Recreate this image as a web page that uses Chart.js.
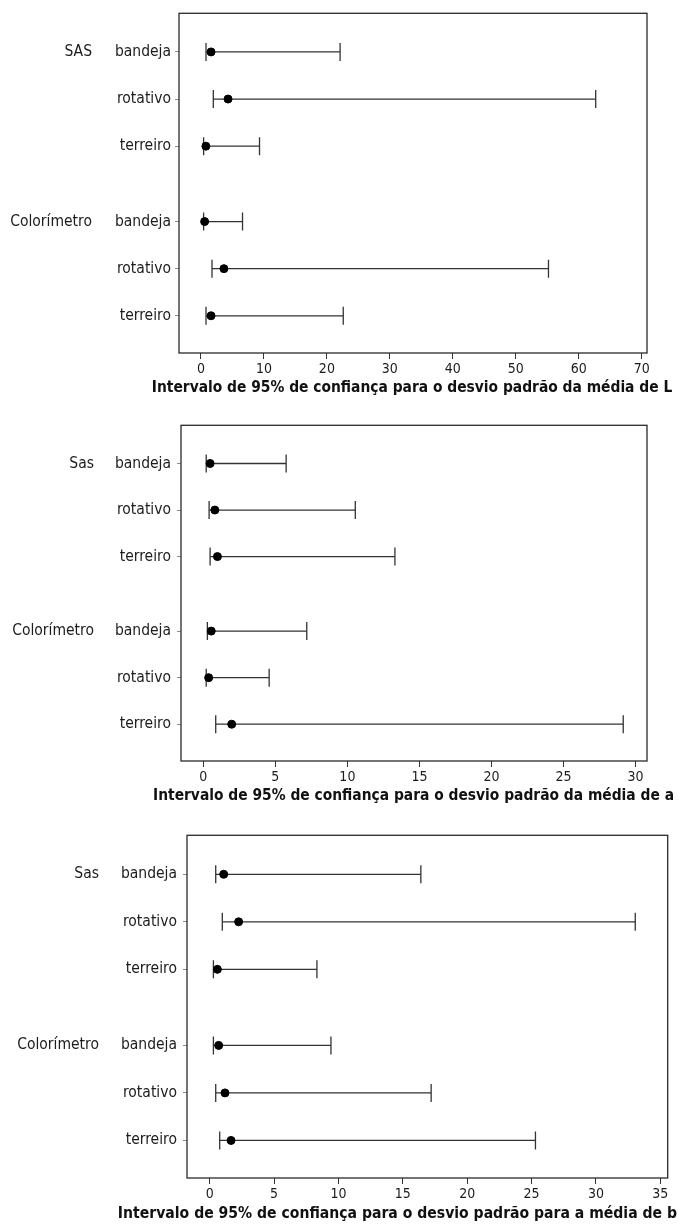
<!DOCTYPE html>
<html>
<head>
<meta charset="utf-8">
<script src="https://cdn.jsdelivr.net/npm/chart.js@4.4.1/dist/chart.umd.min.js"></script>
<style>
    body { margin: 0; background: #fff; width: 678px; height: 1226px; position: relative; overflow: hidden; }
    .panel { position: absolute; left: 0; }
</style>
</head>
<body>
<div class="panel" style="top:0px"><canvas id="chart-l" width="678" height="400"></canvas></div>
<div class="panel" style="top:410px"><canvas id="chart-a" width="678" height="398"></canvas></div>
<div class="panel" style="top:820px"><canvas id="chart-b" width="678" height="406"></canvas></div>
<script>
const rowNames = ['bandeja', 'rotativo', 'terreiro'];
const groupsL = ['SAS', 'Colorímetro'];
const groupsAB = ['Sas', 'Colorímetro'];

// intervalos: limite inferior, desvio padrão estimado, limite superior
const lowL  = [0.8, 1.96, 0.42, 0.42, 1.75, 0.8];
const midL  = [1.6, 4.3, 0.78, 0.58, 3.65, 1.6];
const highL = [22.1, 62.7, 9.3, 6.6, 55.2, 22.6];

const lowA  = [0.2, 0.4, 0.47, 0.28, 0.2, 0.86];
const midA  = [0.47, 0.8, 0.98, 0.55, 0.37, 1.97];
const highA = [5.75, 10.55, 13.3, 7.18, 4.57, 29.15];

const lowB  = [0.47, 0.98, 0.29, 0.29, 0.47, 0.78];
const midB  = [1.09, 2.25, 0.6, 0.7, 1.19, 1.66];
const highB = [16.4, 33.05, 8.33, 9.42, 17.2, 25.3];

const ticksL = [0, 10, 20, 30, 40, 50, 60, 70];
const ticksA = [0, 5, 10, 15, 20, 25, 30];
const ticksB = [0, 5, 10, 15, 20, 25, 30, 35];

const titleL = 'Intervalo de 95% de confiança para o desvio padrão da média de L';
const titleA = 'Intervalo de 95% de confiança para o desvio padrão da média de a';
const titleB = 'Intervalo de 95% de confiança para o desvio padrão para a média de b';

const FONT = "'DejaVu Sans Condensed', 'DejaVu Sans', sans-serif";
const INK = '#1c1c1c';

// linhas dentro de um grupo ficam a 1 unidade; entre grupos o salto é maior
const rowPos = [];
for (let g = 0; g < 2; g++) {
    for (let i = 0; i < 3; i++) rowPos.push(g * 3.6 + i);
}

const framePlugin = {
    id: 'frame',
    afterDraw(chart) {
        const a = chart.chartArea, ctx = chart.ctx;
        ctx.save();
        ctx.strokeStyle = '#2a2a2a';
        ctx.lineWidth = 1.3;
        ctx.strokeRect(a.left, a.top, a.right - a.left, a.bottom - a.top);
        ctx.restore();
    }
};

const groupPlugin = {
    id: 'groupNames',
    afterDraw(chart, args, opts) {
        const ctx = chart.ctx, y = chart.scales.y;
        ctx.save();
        ctx.font = '15.5px ' + FONT;
        ctx.fillStyle = INK;
        ctx.textAlign = 'right';
        ctx.textBaseline = 'middle';
        opts.names.forEach((name, g) => {
            ctx.fillText(name, chart.chartArea.left - opts.offset, y.getPixelForValue(rowPos[g * 3]));
        });
        ctx.restore();
    }
};

// o título do eixo x é mais largo que a área do gráfico, então vai desenhado à parte
const captionPlugin = {
    id: 'caption',
    afterDraw(chart, args, opts) {
        const ctx = chart.ctx;
        ctx.save();
        ctx.font = 'bold ' + opts.size + 'px ' + FONT;
        ctx.fillStyle = '#111';
        ctx.textAlign = opts.align;
        ctx.textBaseline = 'middle';
        ctx.fillText(opts.text, opts.x, opts.y);
        ctx.restore();
    }
};

function makeChart(id, p) {
    const dots = {
        data: p.mid.map((v, i) => ({ x: v, y: rowPos[i] })),
        pointRadius: 4,
        pointBackgroundColor: '#000',
        pointBorderColor: '#000',
        pointBorderWidth: 1,
        showLine: false,
        order: 0
    };
    const bars = p.low.map((lo, i) => ({
        data: [{ x: lo, y: rowPos[i] }, { x: p.high[i], y: rowPos[i] }],
        showLine: true,
        borderColor: '#333',
        borderWidth: 1.3,
        pointStyle: 'line',
        rotation: 90,
        pointRadius: 9,
        pointBorderColor: '#333',
        pointBorderWidth: 1.3,
        order: 1
    }));

    return new Chart(document.getElementById(id), {
        type: 'scatter',
        data: { datasets: [dots, ...bars] },
        plugins: [framePlugin, groupPlugin, captionPlugin],
        options: {
            responsive: false,
            animation: false,
            events: [],
            layout: { padding: { top: p.top, right: p.right, left: 0, bottom: 0 } },
            plugins: {
                legend: { display: false },
                tooltip: { enabled: false },
                groupNames: { names: p.groups, offset: p.groupOffset },
                caption: p.caption
            },
            scales: {
                x: {
                    type: 'linear',
                    min: p.xMin,
                    max: p.xMax,
                    afterBuildTicks: s => { s.ticks = p.ticks.map(v => ({ value: v })); },
                    afterFit: s => { s.height = p.axisH; },
                    border: { display: false },
                    grid: { drawOnChartArea: false, tickLength: 6, color: '#333' },
                    ticks: { autoSkip: false, maxRotation: 0, padding: 2, color: INK, font: { family: FONT, size: 14 } },
                    title: { display: false }
                },
                y: {
                    type: 'linear',
                    reverse: true,
                    min: -0.82,
                    max: 6.39,
                    afterBuildTicks: s => { s.ticks = rowPos.map(v => ({ value: v })); },
                    afterFit: s => { s.width = p.yWidth; },
                    border: { display: false },
                    grid: { drawOnChartArea: false, tickLength: 4, color: '#8a8a8a' },
                    ticks: {
                        autoSkip: false,
                        padding: p.labelPad,
                        color: INK,
                        font: { family: FONT, size: 15.5 },
                        callback: (v, i) => rowNames[i % 3]
                    }
                }
            }
        }
    });
}

makeChart('chart-l', {
    low: lowL, mid: midL, high: highL, ticks: ticksL, groups: groupsL,
    xMin: -3.49, xMax: 70.85, top: 13, right: 31, yWidth: 179, axisH: 47,
    labelPad: 4, groupOffset: 87,
    caption: { text: titleL, x: 412, y: 387.5, align: 'center', size: 15.4 }
});
makeChart('chart-a', {
    low: lowA, mid: midA, high: highA, ticks: ticksA, groups: groupsAB,
    xMin: -1.55, xMax: 30.8, top: 14, right: 31, yWidth: 181, axisH: 47,
    labelPad: 6, groupOffset: 87,
    caption: { text: titleA, x: 413.5, y: 386, align: 'center', size: 15.4 }
});
makeChart('chart-b', {
    low: lowB, mid: midB, high: highB, ticks: ticksB, groups: groupsAB,
    xMin: -1.76, xMax: 35.57, top: 13, right: 10, yWidth: 187, axisH: 48,
    labelPad: 6, groupOffset: 88,
    caption: { text: titleB, x: 677, y: 394, align: 'right', size: 15.6 }
});
</script>
</body>
</html>
